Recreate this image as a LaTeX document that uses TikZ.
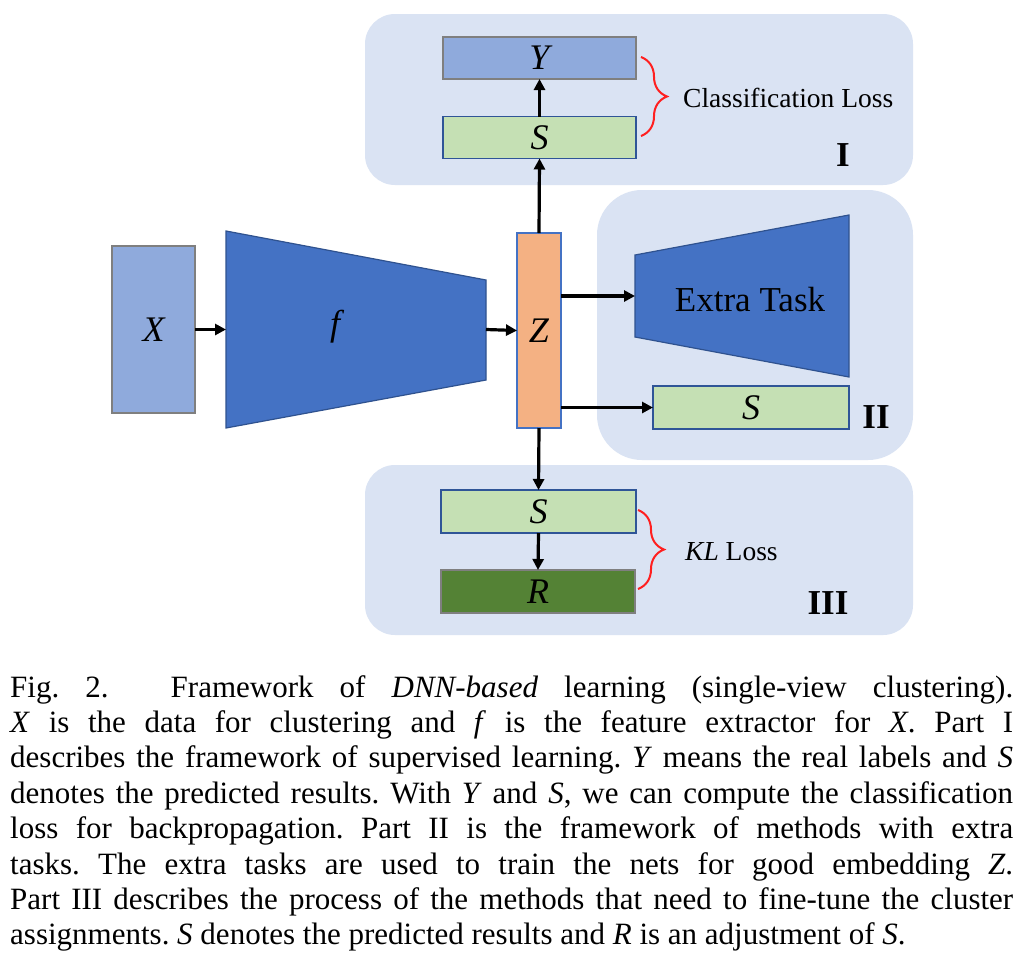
\documentclass[tikz,border=0pt]{standalone}
\usepackage{fontspec}
\setmainfont{Liberation Serif}
\usetikzlibrary{arrows.meta,decorations.pathreplacing}
\definecolor{panelbg}{HTML}{DAE3F3}
\definecolor{lblue}{HTML}{8FAADC}
\definecolor{bgray}{HTML}{7F7F7F}
\definecolor{sgreen}{HTML}{C5E0B4}
\definecolor{sborder}{HTML}{2F5597}
\definecolor{trapfill}{HTML}{4472C4}
\definecolor{trapborder}{HTML}{2F528F}
\definecolor{zfill}{HTML}{F4B183}
\definecolor{zborder}{HTML}{4472C4}
\definecolor{rfill}{HTML}{548235}
\definecolor{bracered}{HTML}{FF1F1F}
\frenchspacing
\tikzset{
  panel/.style={fill=panelbg,draw=none},
  mathlbl/.style={font=\fontsize{36}{40}\selectfont\itshape},
  boxbase/.style={inner sep=0pt,outer sep=0pt,line width=1.6pt,mathlbl},
  ybox/.style={boxbase,fill=lblue,draw=bgray,minimum width=193pt,minimum height=42pt},
  sbox/.style={boxbase,fill=sgreen,draw=sborder,minimum width=#1,minimum height=42pt},
  rbox/.style={boxbase,fill=rfill,draw=bgray,minimum width=194pt,minimum height=43pt},
  xbox/.style={boxbase,fill=lblue,draw=bgray,minimum width=83pt,minimum height=167pt},
  zbox/.style={boxbase,fill=zfill,draw=zborder,minimum width=44pt,minimum height=195pt},
  trap/.style={fill=trapfill,draw=trapborder,line width=1.2pt},
  arr/.style={line width=3.2pt,-{Triangle[length=11pt,width=11pt]}},
  bracestyle/.style={draw=bracered,line width=2pt,decorate,decoration={brace,amplitude=26pt}},
  losslbl/.style={font=\fontsize{27.5}{32}\selectfont,anchor=base west,inner sep=0pt},
  partlbl/.style={font=\fontsize{35}{40}\selectfont\bfseries,inner sep=0pt},
  capline/.style={font=\fontsize{31}{35}\selectfont,anchor=base west,inner sep=0pt},
}
\begin{document}
\begin{tikzpicture}[x=1pt,y=-1pt]
\useasboundingbox (0,0) rectangle (1025,978);
\fill[white] (0,0) rectangle (1025,978);
% panels
\path[panel,rounded corners=30pt] (365,14) rectangle (913,185);
\path[panel,rounded corners=45pt] (597,190) rectangle (913,460);
\path[panel,rounded corners=30pt] (365,465) rectangle (913,635);
% part I
\node[ybox] (Y) at (539.5,58) {Y};
\node[sbox=193pt] (S1) at (539.5,137.5) {S};
% middle
\node[xbox] (X) at (153.5,329.5) {X};
\draw[trap] (226,231) -- (486,280) -- (486,380) -- (226,428) -- cycle;
\node[mathlbl] (f) at (335,327) {f};
\coordinate (fL) at (226,329.5);
\coordinate (fR) at (486,329.5);
\node[zbox] (Z) at (539,330.5) {Z};
% part II
\draw[trap] (635,255) -- (849,215) -- (849,377) -- (635,337) -- cycle;
\node[font=\fontsize{35}{40}\selectfont] (ET) at (750,300) {Extra Task};
\coordinate (etL) at (635,296);
\node[sbox=196pt,minimum height=43pt] (S2) at (751,407.5) {S};
% part III
\node[sbox=195pt,minimum height=43pt] (S3) at (538.5,511.5) {S};
\node[rbox] (R) at (538,591.5) {R};
% arrows
\draw[arr] (X.east) -- (fL);
\draw[arr] (fR) -- (Z.west);
\draw[arr] (Z.north) -- (S1.south);
\draw[arr] (S1.north) -- (Y.south);
\draw[arr] (etL -| Z.east) -- (etL);
\draw[arr] (S2.west -| Z.east) -- (S2.west);
\draw[arr] (Z.south) -- (S3.north);
\draw[arr] (S3.south) -- (R.north);
% braces
\coordinate (b1a) at (641,57);
\coordinate (b1b) at (641,136);
\draw[bracestyle] (b1a) -- (b1b);
\node[losslbl] (cl) at (683,107) {Classification Loss};
\coordinate (b3a) at (638,510);
\coordinate (b3b) at (638,589);
\draw[bracestyle] (b3a) -- (b3b);
\node[losslbl] (kl) at (685,560) {\textit{KL} Loss};
% part labels
\node[partlbl] (p1) at (843,155) {I};
\node[partlbl] (p2) at (876,417) {II};
\node[partlbl] (p3) at (828,603) {III};
% caption
\node[capline] (c1) at (10,697) {\makebox[1003pt][s]{Fig.~2.\hspace{36pt} Framework of \textit{DNN-based} learning (single-view clustering).}};
\node[capline] (c2) at (10,732.4) {\makebox[1003pt][s]{\textit{X} is the data for clustering and \textit{f} is the feature extractor for \textit{X}. Part I}};
\node[capline] (c3) at (10,767.8) {\makebox[1003pt][s]{describes the framework of supervised learning. \textit{Y} means the real labels and \textit{S}}};
\node[capline] (c4) at (10,803.2) {\makebox[1003pt][s]{denotes the predicted results. With \textit{Y} and \textit{S}, we can compute the classification}};
\node[capline] (c5) at (10,838.6) {\makebox[1003pt][s]{loss for backpropagation. Part II is the framework of methods with extra}};
\node[capline] (c6) at (10,874) {\makebox[1003pt][s]{tasks. The extra tasks are used to train the nets for good embedding \textit{Z}.}};
\node[capline] (c7) at (10,909.4) {\makebox[1003pt][s]{Part III describes the process of the methods that need to fine-tune the cluster}};
\node[capline] (c8) at (10,944.8) {assignments. \textit{S} denotes the predicted results and \textit{R} is an adjustment of \textit{S}.};
\end{tikzpicture}
\end{document}
